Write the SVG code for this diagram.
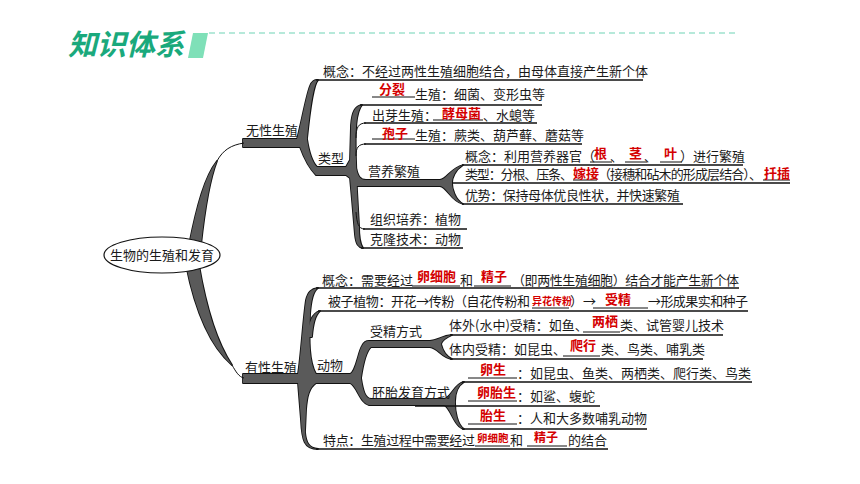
<svg xmlns="http://www.w3.org/2000/svg" width="860" height="484" viewBox="0 0 860 484">
<style>
text{font-family:"Noto Sans CJK SC","Noto Sans",sans-serif;font-size:13px;fill:#1a1a1a}
.r{fill:#d40000;font-weight:bold}
.s{font-size:10px}
.ln{stroke:#111;stroke-width:1.3;fill:none}
.bl{stroke:#111;stroke-width:1;fill:none}
.title{font-size:29px;font-weight:bold;font-style:italic;fill:#1aa97c}
</style>
<defs>
<g id="shapes">
<path d="M189 245 C197 205 205 176 217 161 C210 179 205 208 201 245 Z"/>
<path d="M186 265 C195 310 210 346 232 365 C216 341 206 306 199 265 Z"/>
<path d="M243 139 L297 139 C302 120 306 96 310 86 C312 81 314 80 318 80 C314 84 311 100 307 139 C309 152 312 162 317 167 L350 167 L350 175 L316 175 C309 168 304 158 300 147 L243 147 Z"/>
<path d="M362 105 C355 106 352 112 351 125 L350 160 L346 167 L346 175 L350 178 L352 200 L355 235 C356 244 358 247 363 248 C360 244 359 238 359 225 L357 190 L356 160 C355 130 356 112 362 105 Z"/>
<path d="M356 168 C358 176 360 180 366 180 L445 180 L445 186 L356 186 Z"/>
<path d="M440 180 C447 179 451 168 463 165 C455 170 452 178 452 183 C452 188 455 200 463 204 C451 201 447 187 440 186 Z"/>
<path d="M243 374 L298 374 C301 355 303 320 306 300 C308 292 311 289 318 288 C313 291 311 300 310 315 C309 340 309 362 316 374 L352 374 L352 383 L316 383 C309 388 307 396 306 410 L305 432 C306 443 309 448 318 449 C304 449 302 440 301 420 L298 383 L243 383 Z"/>
<path d="M307 337 C309 322 312 313 320 311 C315 315 313 324 312 337 Z"/>
<path d="M350 374 C356 372 358 352 362 346 C364 342 366 341 369 341 L433 341 L433 347 L371 347 C366 351 363 365 361 378 C363 391 365 398 371 399 L447 399 L447 405 L369 405 C360 403 357 386 350 383 Z"/>
<path d="M430 341 C438 340 442 336 452 335 C445 338 442 341 441 344 C442 348 445 356 452 359 C442 358 438 348 430 347 Z"/>
<path d="M444 399 C451 398 454 384 464 382 C457 386 455 395 455 402 C455 410 457 425 464 429 C454 427 451 408 444 405 Z"/>
</g>
</defs>

<g id="header">
<text class="title" x="68" y="55">知识体系</text>
<polygon points="193,33 208,33 203,58 188,58" fill="#7fe0b8"/>
<line x1="209" y1="33" x2="735" y2="33" stroke="#6fd3b5" stroke-width="1.2" stroke-dasharray="6 4"/>
</g>

<g id="connectors">
<use href="#shapes" fill="#111" stroke="#111" stroke-width="1.8" stroke-linejoin="round"/>
<use href="#shapes" fill="#5a5a5a"/>
<path class="bl" d="M217 161 C223 150 231 145 244 143"/>
<path class="bl" d="M232 365 C236 372 239 377 244 378"/>
<path class="bl" d="M356 138 C356 128 358 123 366 123"/>
<path class="bl" d="M356 156 C356 148 358 144 366 144"/>
<path class="bl" d="M356 212 C357 223 358 229 365 229"/>
<path class="ln" d="M316 80 H643 M360 105 H542 M364 123 H537 M364 144 H582 M462 165 H743 M452 183 H790 M462 204 H683 M363 229 H467 M361 248 H463"/>
<path class="ln" d="M316 288 H739 M318 311 H748 M450 335 H723 M450 359 H703 M462 382 H752 M415 406 H600 M462 429 H647 M316 449 H608"/>
<path class="bl" d="M372 97 H415 M433 120 H483 M372 139 H415 M590 162 H612 M625 162 H647 M660 162 H682 M573 180 H597 M763 180 H790"/>
<path class="bl" d="M412 286 H460 M474 286 H511 M532 308 H569 M593 308 H648 M583 332 H620 M563 356 H600 M468 378 H517 M468 401 H517 M468 424 H517 M475 446 H510 M527 446 H567"/>
</g>

<g id="root">
<ellipse cx="162" cy="255" rx="58" ry="18" fill="#fff" stroke="#111" stroke-width="1.2"/>
<text x="162" y="260" text-anchor="middle">生物的生殖和发育</text>
</g>

<g id="asexual"><text x="246" y="135">无性生殖</text></g>
<g id="asexual-concept"><text x="323" y="76">概念：不经过两性生殖细胞结合，由母体直接产生新个体</text></g>
<g id="fission"><text class="r" x="379" y="94">分裂</text><text x="415" y="99">生殖：细菌、变形虫等</text></g>
<g id="budding"><text x="372" y="120">出芽生殖：</text><text class="r" x="442" y="118">酵母菌</text><text x="483" y="120">、水螅等</text></g>
<g id="spore"><text class="r" x="382" y="138">孢子</text><text x="415" y="140">生殖：蕨类、葫芦藓、蘑菇等</text></g>
<g id="types"><text x="318" y="163">类型</text></g>
<g id="vegetative"><text x="368" y="176">营养繁殖</text></g>
<g id="veg-concept"><text x="465" y="161">概念：利用营养器官（</text><text class="r" x="594" y="158">根</text><text x="610" y="161">、</text><text class="r" x="629" y="158">茎</text><text x="644" y="161">、</text><text class="r" x="664" y="158">叶</text><text x="680" y="161">）进行繁殖</text></g>
<g id="veg-types"><text x="465" y="179" textLength="108">类型：分根、压条、</text><text class="r" x="573" y="178">嫁接</text><text x="598" y="179" textLength="164">（接穗和砧木的形成层结合）、</text><text class="r" x="764" y="178">扦插</text></g>
<g id="veg-adv"><text x="465" y="200" textLength="215">优势：保持母体优良性状，并快速繁殖</text></g>
<g id="tissue"><text x="370" y="224">组织培养：植物</text></g>
<g id="clone"><text x="370" y="244">克隆技术：动物</text></g>

<g id="sexual"><text x="245" y="372">有性生殖</text></g>
<g id="sexual-concept"><text x="322" y="285">概念：需要经过</text><text class="r" x="417" y="281">卵细胞</text><text x="460" y="285">和</text><text class="r" x="481" y="281">精子</text><text x="512" y="285" textLength="227">（即两性生殖细胞）结合才能产生新个体</text></g>
<g id="angiosperm"><text x="328" y="306" textLength="202">被子植物：开花→传粉（自花传粉和</text><text class="r s" x="532" y="305">异花传粉</text><text x="570" y="306">）→</text><text class="r" x="605" y="304">受精</text><text x="648" y="306" textLength="100">→形成果实和种子</text></g>
<g id="animal"><text x="317" y="370">动物</text></g>
<g id="fert"><text x="370" y="336">受精方式</text></g>
<g id="external"><text x="449" y="330">体外(水中)受精：如鱼、</text><text class="r" x="592" y="326">两栖</text><text x="620" y="330">类、试管婴儿技术</text></g>
<g id="internal"><text x="449" y="354">体内受精：如昆虫、</text><text class="r" x="570" y="350">爬行</text><text x="601" y="354">类、鸟类、哺乳类</text></g>
<g id="embryo"><text x="372" y="397">胚胎发育方式</text></g>
<g id="oviparous"><text class="r" x="480" y="374">卵生</text><text x="517" y="378">：如昆虫、鱼类、两栖类、爬行类、鸟类</text></g>
<g id="ovoviviparous"><text class="r" x="477" y="397">卵胎生</text><text x="517" y="401">：如鲨、蝮蛇</text></g>
<g id="viviparous"><text class="r" x="480" y="420">胎生</text><text x="517" y="423">：人和大多数哺乳动物</text></g>
<g id="feature"><text x="323" y="445" textLength="152">特点：生殖过程中需要经过</text><text class="r" x="477" y="442" style="font-size:10.5px">卵细胞</text><text x="510" y="445">和</text><text class="r" x="534" y="442" style="font-size:12px">精子</text><text x="568" y="445">的结合</text></g>
</svg>
